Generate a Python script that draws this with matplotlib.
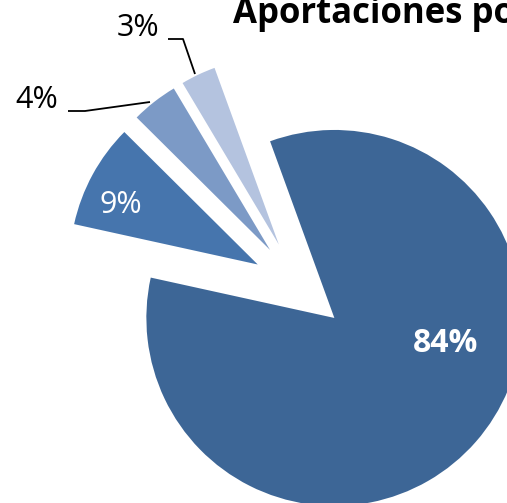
import numpy as np
import matplotlib
matplotlib.use('Agg')
from matplotlib import pyplot as plt

# data
shares = [84, 9, 4, 3]
pct_labels = ['84%', '9%', '4%', '3%']
title = 'Aportaciones por'

colors = ['#3D6696', '#4675AD', '#7C9AC6', '#B4C3DF']
label_colors = ['white', 'white', 'black', 'black']
label_weights = ['bold', 'normal', 'normal', 'normal']
label_sizes = [23, 22, 22, 22]
# label positions in pixel space (x, y from top)
label_pos = [(446, 343), (121, 205), (37, 100), (138, 28)]

W, H = 507, 503
center = (299, H - 287)
radius = 188

plt.rcParams['font.family'] = ['Open Sans', 'DejaVu Sans']

fig = plt.figure(figsize=(W / 100, H / 100), dpi=100)
ax = fig.add_axes([0, 0, 1, 1])

# explode is in data units here (pixels)
wedges, _ = ax.pie(shares, colors=colors, startangle=110, counterclock=False,
                   explode=[0.25 * radius] * len(shares), center=center,
                   radius=radius, wedgeprops=dict(linewidth=0))

for txt, (x, y), c, w, s in zip(pct_labels, label_pos, label_colors,
                                label_weights, label_sizes):
    ax.text(x, H - y, txt, color=c, fontweight=w, fontsize=s,
            ha='center', va='center')

# leader lines for the outside labels
leaders = [
    [(68, 111), (85, 111), (150, 102)],
    [(168, 39), (183, 39), (195, 74)],
]
for pts in leaders:
    xs = [p[0] for p in pts]
    ys = [H - p[1] for p in pts]
    ax.plot(xs, ys, color='black', lw=1.3, solid_capstyle='butt')

# title runs off the right edge, as in the original
fig.text(233 / W, 1 - 23 / H, title, fontsize=25, fontweight='bold',
         ha='left', va='baseline')

ax.set_xlim(0, W)
ax.set_ylim(0, H)
ax.set_aspect('equal')
ax.axis('off')

fig.savefig('out.png', dpi=100)
